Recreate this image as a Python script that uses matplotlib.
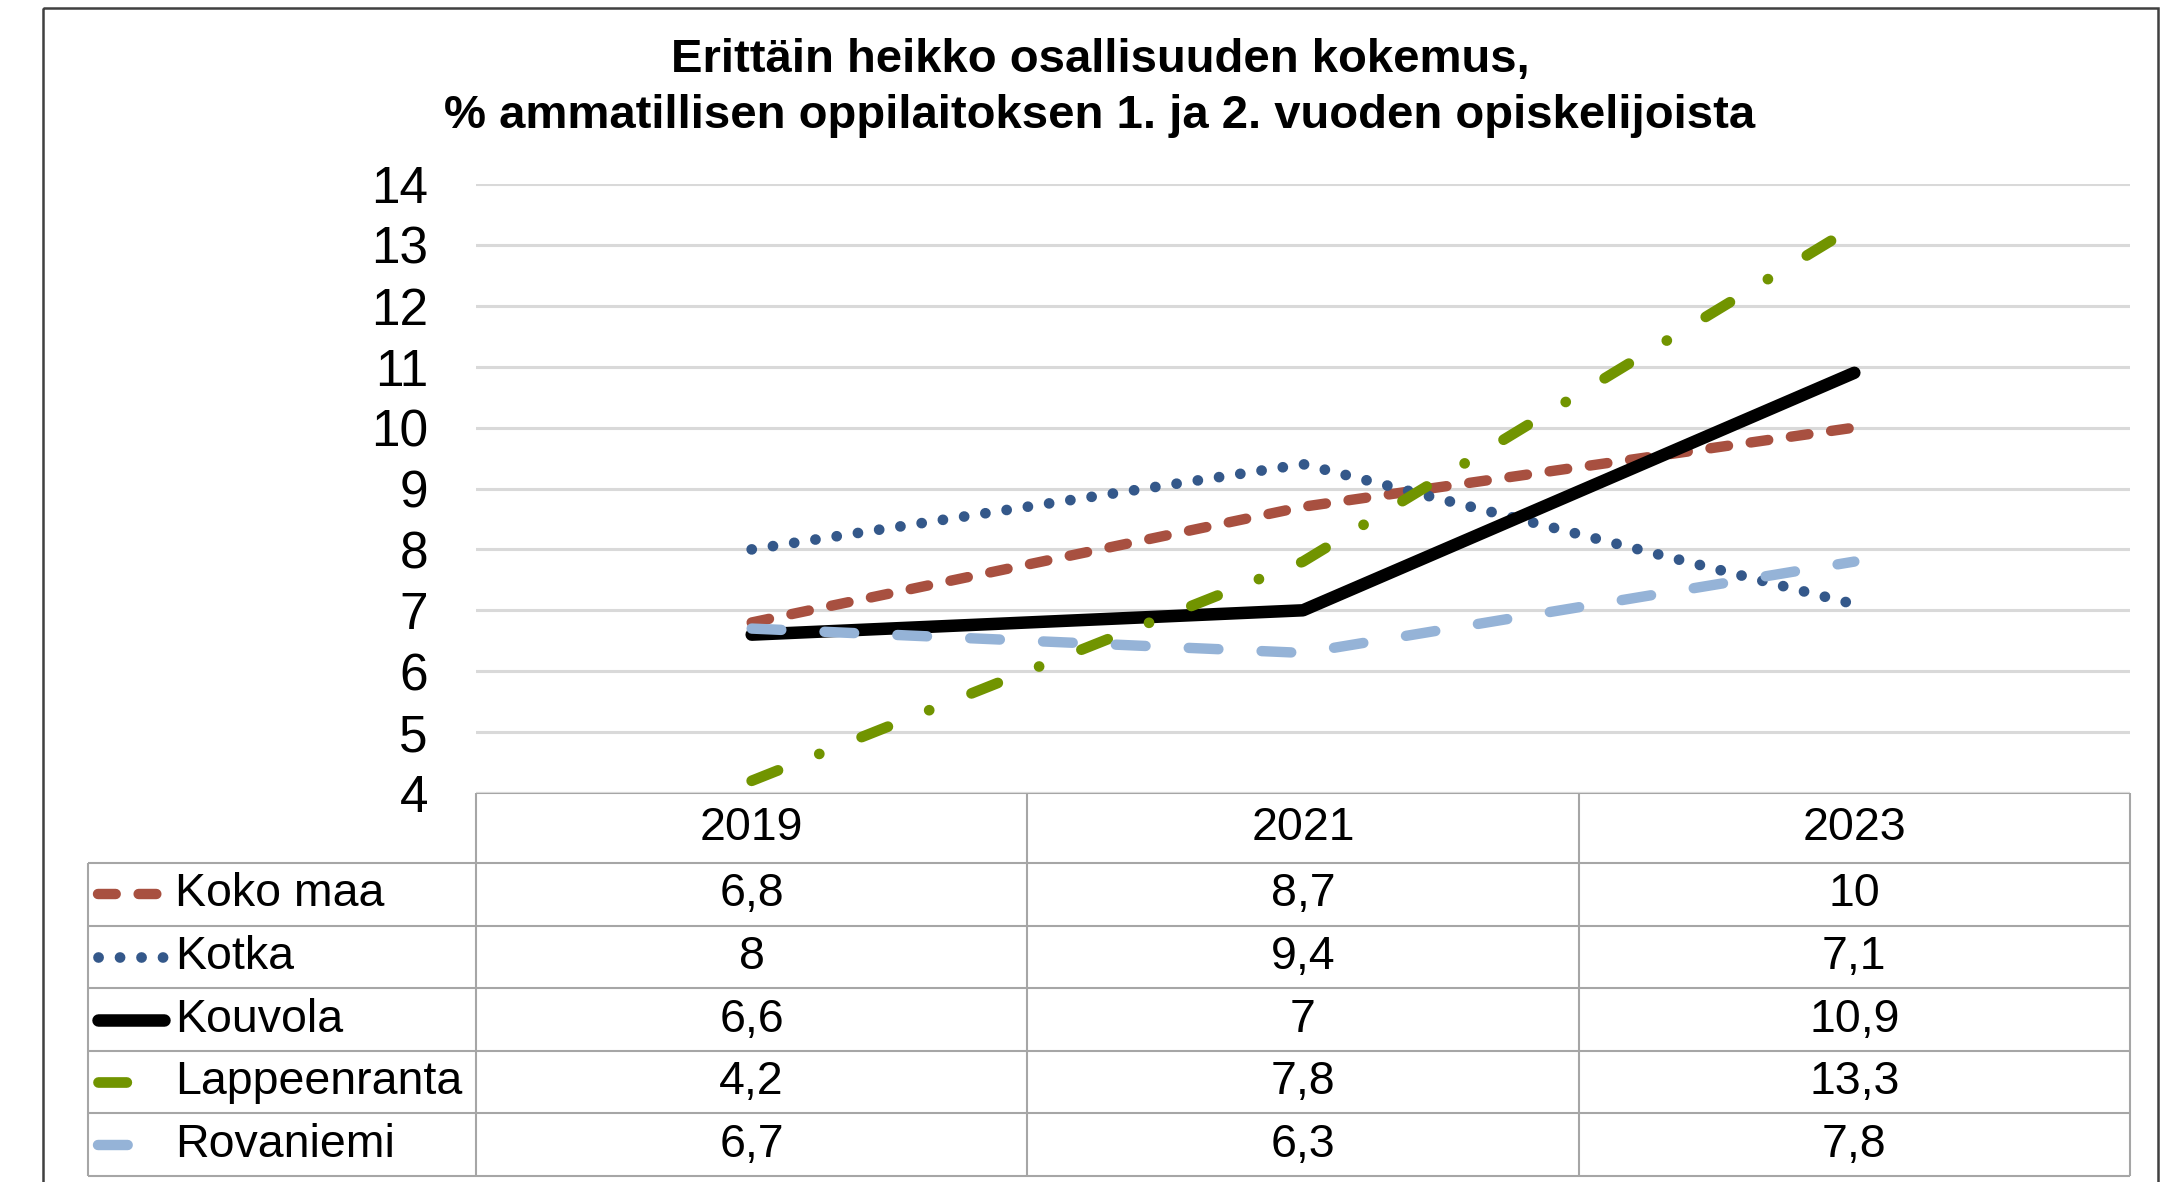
"""Line chart with data table: very weak sense of inclusion among vocational students."""
import matplotlib.pyplot as plt
from matplotlib.patches import Rectangle

plt.rcParams["font.family"] = ["Liberation Sans", "DejaVu Sans"]

YEARS = ["2019", "2021", "2023"]
SERIES = ["Koko maa", "Kotka", "Kouvola", "Lappeenranta", "Rovaniemi"]
KOKO_MAA = [6.8, 8.7, 10]
KOTKA = [8, 9.4, 7.1]
KOUVOLA = [6.6, 7, 10.9]
LAPPEENRANTA = [4.2, 7.8, 13.3]
ROVANIEMI = [6.7, 6.3, 7.8]
VALUES = [KOKO_MAA, KOTKA, KOUVOLA, LAPPEENRANTA, ROVANIEMI]

TITLE = ["Erittäin heikko osallisuuden kokemus,",
         "% ammatillisen oppilaitoksen 1. ja 2. vuoden opiskelijoista"]

# line styles: colour, width (pt), dash pattern in units of line width (None = solid)
STYLES = [
    ("#A85040", 7.5, (1.7, 2.2)),
    ("#34588A", 7.7, (0.01, 2.0)),
    ("#000000", 9.0, None),
    ("#719400", 7.7, (2.65, 4.15, 0.01, 4.25)),
    ("#95B3D7", 7.5, (2.85, 4.15)),
]

W, H = 2162, 1182
PLOT_L, PLOT_R = 476, 2130
Y_TOP, Y_BOT = 184, 793          # pixel rows of the 14 and 4 gridlines
HEAD_H, ROW_H = 70, 62.6
TABLE_L = 88
KEY_X0, KEY_X1 = 98, 164
LABEL_X = 175
GRID = "#D9D9D9"
TABLE_EDGE = "#A6A6A6"


def fmt(v):
    return f"{v:g}".replace(".", ",")


def style_line(line, color, lw, dashes):
    line.set_color(color)
    line.set_linewidth(lw)
    line.set_solid_capstyle("round")
    line.set_dash_capstyle("round")
    line.set_solid_joinstyle("round")
    if dashes is not None:
        line.set_dashes(dashes)


fig = plt.figure(figsize=(W / 100, H / 100), dpi=100)

# overlay in pixel coordinates for the frame, title and data table
tax = fig.add_axes([0, 0, 1, 1], zorder=0)
tax.set_xlim(0, W)
tax.set_ylim(H, 0)
tax.axis("off")

ax = fig.add_axes([PLOT_L / W, 1 - Y_BOT / H, (PLOT_R - PLOT_L) / W, (Y_BOT - Y_TOP) / H],
                  zorder=1)
ax.patch.set_visible(False)

x = range(len(YEARS))
for vals, (color, lw, dashes) in zip(VALUES, STYLES):
    line, = ax.plot(x, vals, clip_on=False)
    style_line(line, color, lw, dashes)

ax.set_xlim(-0.5, len(YEARS) - 0.5)
ax.set_ylim(4, 14)
ax.set_yticks(range(4, 15))
ax.set_xticks([])
ax.tick_params(axis="y", length=0, pad=34.6, labelsize=37)
ax.grid(axis="y", color=GRID, lw=2.2)
ax.set_axisbelow(True)
for sp in ax.spines.values():
    sp.set_visible(False)

# outer chart frame
tax.add_patch(Rectangle((43, 8), 2158 - 43, 1300, fill=False, ec="#404040",
                        lw=1.8, clip_on=False))

# title
tax.text(1100, 72, TITLE[0], ha="center", va="baseline", fontsize=34, fontweight="bold")
tax.text(1100, 128, TITLE[1], ha="center", va="baseline", fontsize=34, fontweight="bold")

# data table
col_w = (PLOT_R - PLOT_L) / len(YEARS)
col_edges = [PLOT_L + i * col_w for i in range(len(YEARS) + 1)]
rows_top = Y_BOT + HEAD_H
row_edges = [rows_top + i * ROW_H for i in range(len(SERIES) + 1)]

tax.hlines(Y_BOT, PLOT_L, PLOT_R, color=TABLE_EDGE, lw=1.5)
tax.hlines(row_edges, TABLE_L, PLOT_R, color=TABLE_EDGE, lw=1.5)
tax.vlines(TABLE_L, rows_top, row_edges[-1], color=TABLE_EDGE, lw=1.5)
tax.vlines(col_edges, Y_BOT, row_edges[-1], color=TABLE_EDGE, lw=1.5)

for j, year in enumerate(YEARS):
    cx = col_edges[j] + col_w / 2
    tax.text(cx, Y_BOT + HEAD_H / 2, year, ha="center", va="center", fontsize=33.5)

for i, (name, vals, (color, lw, dashes)) in enumerate(zip(SERIES, VALUES, STYLES)):
    cy = row_edges[i] + ROW_H / 2
    key, = tax.plot([KEY_X0, KEY_X1], [cy, cy])
    style_line(key, color, lw, dashes)
    tax.text(LABEL_X, cy, name, ha="left", va="center", fontsize=33.5)
    for j, v in enumerate(vals):
        cx = col_edges[j] + col_w / 2
        tax.text(cx, cy, fmt(v), ha="center", va="center", fontsize=33.5)

fig.savefig("out.png", dpi=100)
